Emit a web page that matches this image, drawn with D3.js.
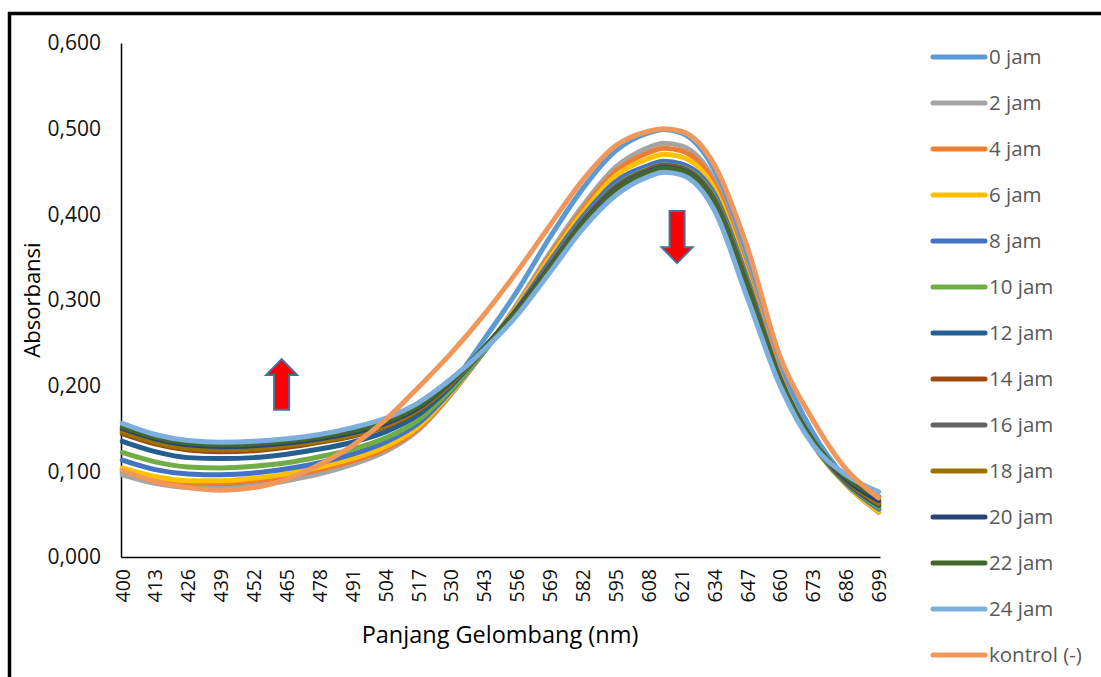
<!DOCTYPE html>
<html>
<head>
<meta charset="utf-8">
<script src="https://cdn.jsdelivr.net/npm/d3@7"></script>
<style>
  body { margin: 0; background: #fff; }
  text { font-family: "Open Sans", sans-serif; }
</style>
</head>
<body>
<div id="chart"></div>
<script>
var waves = [400, 413, 426, 439, 452, 465, 478, 491, 504, 517, 530, 543, 556, 569, 582, 595, 608, 614, 621, 634, 647, 660, 673, 686, 699];

var xTicks = [400, 413, 426, 439, 452, 465, 478, 491, 504, 517, 530, 543, 556, 569, 582, 595, 608, 621, 634, 647, 660, 673, 686, 699];
var yTicks = [0, 0.1, 0.2, 0.3, 0.4, 0.5, 0.6];

var seriesNames = ["0 jam", "2 jam", "4 jam", "6 jam", "8 jam", "10 jam", "12 jam", "14 jam", "16 jam", "18 jam", "20 jam", "22 jam", "24 jam", "kontrol (-)"];

var jam0  = [0.098,0.088,0.083,0.082,0.085,0.091,0.100,0.113,0.130,0.157,0.200,0.254,0.310,0.373,0.430,0.474,0.495,0.499,0.495,0.452,0.350,0.225,0.145,0.092,0.060];
var jam2  = [0.096,0.086,0.081,0.080,0.083,0.089,0.097,0.108,0.123,0.148,0.190,0.240,0.295,0.355,0.410,0.455,0.478,0.483,0.480,0.440,0.335,0.213,0.133,0.085,0.052];
var jam4  = [0.102,0.092,0.087,0.086,0.089,0.094,0.102,0.112,0.126,0.150,0.191,0.240,0.293,0.352,0.406,0.450,0.472,0.477,0.474,0.436,0.332,0.212,0.133,0.086,0.055];
var jam6  = [0.104,0.094,0.089,0.089,0.092,0.097,0.105,0.115,0.129,0.152,0.192,0.240,0.292,0.349,0.402,0.445,0.465,0.470,0.467,0.430,0.328,0.210,0.132,0.085,0.053];
var jam8  = [0.113,0.102,0.097,0.096,0.098,0.103,0.110,0.120,0.134,0.156,0.194,0.240,0.290,0.345,0.397,0.438,0.457,0.462,0.459,0.424,0.325,0.209,0.132,0.086,0.056];
var jam10 = [0.122,0.111,0.105,0.104,0.106,0.110,0.117,0.126,0.139,0.160,0.196,0.240,0.288,0.341,0.393,0.433,0.453,0.458,0.455,0.420,0.322,0.208,0.133,0.087,0.058];
var jam12 = [0.135,0.123,0.116,0.115,0.116,0.120,0.126,0.134,0.146,0.166,0.200,0.242,0.288,0.340,0.392,0.432,0.452,0.457,0.454,0.418,0.320,0.208,0.134,0.088,0.060];
var jam14 = [0.144,0.132,0.125,0.123,0.124,0.128,0.134,0.141,0.152,0.171,0.203,0.244,0.289,0.340,0.391,0.431,0.452,0.457,0.454,0.417,0.318,0.207,0.134,0.089,0.062];
var jam16 = [0.148,0.136,0.129,0.127,0.128,0.132,0.137,0.144,0.155,0.173,0.204,0.244,0.289,0.339,0.390,0.430,0.451,0.456,0.453,0.416,0.317,0.207,0.135,0.090,0.064];
var jam18 = [0.146,0.134,0.127,0.125,0.126,0.130,0.135,0.142,0.153,0.172,0.203,0.243,0.288,0.338,0.389,0.429,0.450,0.455,0.452,0.415,0.316,0.206,0.134,0.090,0.063];
var jam20 = [0.150,0.138,0.131,0.129,0.130,0.133,0.138,0.145,0.156,0.174,0.205,0.244,0.288,0.338,0.389,0.429,0.450,0.455,0.452,0.414,0.315,0.206,0.135,0.091,0.066];
var jam22 = [0.152,0.140,0.133,0.131,0.132,0.135,0.140,0.147,0.158,0.176,0.206,0.244,0.287,0.337,0.388,0.428,0.449,0.454,0.451,0.413,0.314,0.206,0.136,0.093,0.070];
var jam24 = [0.156,0.143,0.136,0.134,0.135,0.138,0.143,0.151,0.162,0.180,0.208,0.242,0.282,0.332,0.383,0.422,0.444,0.449,0.446,0.405,0.303,0.200,0.131,0.096,0.076];
var kontrol = [0.101,0.088,0.081,0.078,0.081,0.091,0.108,0.130,0.160,0.198,0.238,0.283,0.333,0.387,0.440,0.480,0.497,0.500,0.497,0.458,0.362,0.234,0.160,0.103,0.069];

var colors = ["#5B9BD5", "#A5A5A5", "#ED7D31", "#FFC000", "#4472C4", "#70AD47", "#255E91", "#9E480E", "#636363", "#997300", "#264478", "#43682B", "#7CAFDD", "#F1975A"];

var allSeries = [jam0, jam2, jam4, jam6, jam8, jam10, jam12, jam14, jam16, jam18, jam20, jam22, jam24, kontrol];

// arrows (data units: nm, absorbance)
var upArrow = { nm: 463, tip: 0.231, base: 0.172 };
var downArrow = { nm: 619.3, top: 0.404, tip: 0.343 };

var width = 1101, height = 677;
var plot = { left: 121, right: 880, top: 43, bottom: 557 };

var svg = d3.select("#chart")
  .append("svg")
  .attr("width", width)
  .attr("height", height);

svg.append("rect")
  .attr("width", width)
  .attr("height", height)
  .attr("fill", "#fff");

// outer frame
svg.append("rect")
  .attr("x", 9.5)
  .attr("y", 13.5)
  .attr("width", 1200)
  .attr("height", 900)
  .attr("fill", "none")
  .attr("stroke", "#000")
  .attr("stroke-width", 3.5);

var x = d3.scaleLinear().domain([399.5, 699.5]).range([plot.left, plot.right]);
var y = d3.scaleLinear().domain([0, 0.6]).range([plot.bottom, plot.top]);

var fmt = function (d) { return d3.format(".3f")(d).replace(".", ","); };

// y axis
var yAxis = svg.append("g")
  .attr("transform", "translate(" + plot.left + ",0)")
  .call(d3.axisLeft(y).tickValues(yTicks).tickFormat(fmt).tickSize(0).tickPadding(20));
yAxis.select(".domain").attr("stroke", "#000").attr("stroke-width", 1.5);
yAxis.selectAll(".tick text")
  .attr("font-size", "21px")
  .attr("font-family", "Open Sans")
  .attr("fill", "#111");

// x axis
var xAxis = svg.append("g")
  .attr("transform", "translate(0," + plot.bottom + ")")
  .call(d3.axisBottom(x).tickValues(xTicks).tickFormat(d3.format("d")).tickSize(0));
xAxis.select(".domain").attr("stroke", "#000").attr("stroke-width", 1.5);
xAxis.selectAll(".tick text")
  .attr("font-size", "19.5px")
  .attr("font-family", "Open Sans")
  .attr("fill", "#111")
  .attr("text-anchor", "end")
  .attr("dy", "0.35em")
  .attr("transform", "translate(0,12)rotate(-90)")
  .attr("x", 0)
  .attr("y", 0);

// axis titles
svg.append("text")
  .attr("x", 500)
  .attr("y", 643)
  .attr("text-anchor", "middle")
  .attr("font-size", "23.5px")
  .attr("fill", "#000")
  .text("Panjang Gelombang (nm)");

svg.append("text")
  .attr("transform", "translate(40,300)rotate(-90)")
  .attr("text-anchor", "middle")
  .attr("font-size", "22px")
  .attr("fill", "#000")
  .text("Absorbansi");

// lines
var line = d3.line()
  .x(function (d, i) { return x(waves[i]); })
  .y(function (d) { return y(d); })
  .curve(d3.curveMonotoneX);

svg.append("g")
  .selectAll("path")
  .data(allSeries)
  .enter()
  .append("path")
  .attr("d", line)
  .attr("fill", "none")
  .attr("stroke", function (d, i) { return colors[i]; })
  .attr("stroke-width", 5)
  .attr("stroke-linejoin", "round")
  .attr("stroke-linecap", "round");

// arrows
function arrowPath(cx, yTip, yHead, yEnd, headW, shaftW) {
  return "M" + cx + "," + yTip +
    "L" + (cx + headW / 2) + "," + yHead +
    "L" + (cx + shaftW / 2) + "," + yHead +
    "L" + (cx + shaftW / 2) + "," + yEnd +
    "L" + (cx - shaftW / 2) + "," + yEnd +
    "L" + (cx - shaftW / 2) + "," + yHead +
    "L" + (cx - headW / 2) + "," + yHead + "Z";
}

var upTipY = y(upArrow.tip), upBaseY = y(upArrow.base);
svg.append("path")
  .attr("d", arrowPath(x(upArrow.nm), upTipY, upTipY + 16, upBaseY, 31, 15))
  .attr("fill", "#FF0000")
  .attr("stroke", "#41719C")
  .attr("stroke-width", 2);

var dnTipY = y(downArrow.tip), dnTopY = y(downArrow.top);
svg.append("path")
  .attr("d", arrowPath(x(downArrow.nm), dnTipY, dnTipY - 16, dnTopY, 31, 15))
  .attr("fill", "#FF0000")
  .attr("stroke", "#41719C")
  .attr("stroke-width", 2);

// legend
var legend = svg.append("g")
  .selectAll("g")
  .data(seriesNames)
  .enter()
  .append("g")
  .attr("transform", function (d, i) { return "translate(0," + (57 + i * 46) + ")"; });

legend.append("line")
  .attr("x1", 933)
  .attr("x2", 985)
  .attr("stroke", function (d, i) { return colors[i]; })
  .attr("stroke-width", 5)
  .attr("stroke-linecap", "round");

legend.append("text")
  .attr("x", 989)
  .attr("dy", "0.35em")
  .attr("font-size", "20.5px")
  .attr("fill", "#595959")
  .text(function (d) { return d; });
</script>
</body>
</html>
